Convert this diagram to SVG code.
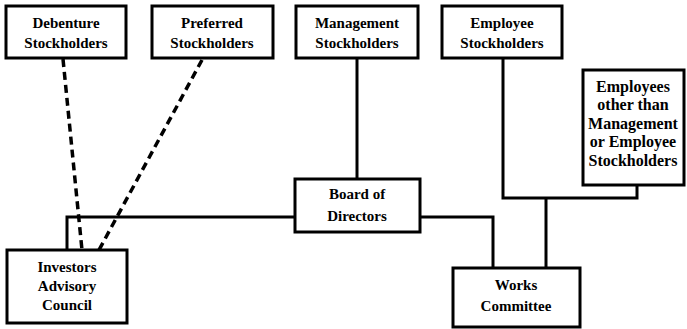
<svg xmlns="http://www.w3.org/2000/svg" width="687" height="329" viewBox="0 0 687 329">
<style>
.box{fill:#fff;stroke:#000;stroke-width:3}
.ln{fill:none;stroke:#000;stroke-width:3}
.dash{fill:none;stroke:#000;stroke-width:3.5;stroke-dasharray:8 5}
text{font-family:"Liberation Serif","DejaVu Serif",serif;font-weight:bold;font-size:15px;text-anchor:middle;fill:#000}
.wide{font-size:16px}
</style>
<rect width="687" height="329" fill="#fff"/>
<g id="connectors">
<path class="dash" d="M63,59 L82,250"/>
<path class="dash" d="M202,60 L99,250"/>
<path class="ln" d="M357,58 V179"/>
<path class="ln" d="M67,250 V217 H295"/>
<path class="ln" d="M420,217 H493 V268"/>
<path class="ln" d="M503,58 V198 H637 V185"/>
<path class="ln" d="M546,198 V268"/>
</g>
<g id="debenture"><rect class="box" x="6" y="6" width="120" height="52"/><text x="66" y="28">Debenture</text><text x="66" y="48">Stockholders</text></g>
<g id="preferred"><rect class="box" x="152" y="6" width="121" height="52"/><text x="212" y="28">Preferred</text><text x="212" y="48">Stockholders</text></g>
<g id="management"><rect class="box" x="296" y="6" width="122" height="52"/><text x="357" y="28">Management</text><text x="357" y="48">Stockholders</text></g>
<g id="employee"><rect class="box" x="442" y="6" width="120" height="52"/><text x="502" y="28">Employee</text><text x="502" y="48">Stockholders</text></g>
<g id="employees-other"><rect class="box" x="583" y="70" width="101" height="115"/><text class="wide" x="633" y="92">Employees</text><text class="wide" x="633" y="110">other than</text><text class="wide" x="633" y="129">Management</text><text class="wide" x="633" y="147">or Employee</text><text class="wide" x="633" y="166">Stockholders</text></g>
<g id="board"><rect class="box" x="295" y="179" width="125" height="53"/><text x="357" y="199">Board of</text><text x="357" y="221">Directors</text></g>
<g id="investors"><rect class="box" x="7" y="250" width="120" height="73"/><text x="67" y="272">Investors</text><text x="67" y="291">Advisory</text><text x="67" y="310">Council</text></g>
<g id="works"><rect class="box" x="453" y="268" width="127" height="59"/><text x="516" y="290">Works</text><text x="516" y="311">Committee</text></g>
</svg>
